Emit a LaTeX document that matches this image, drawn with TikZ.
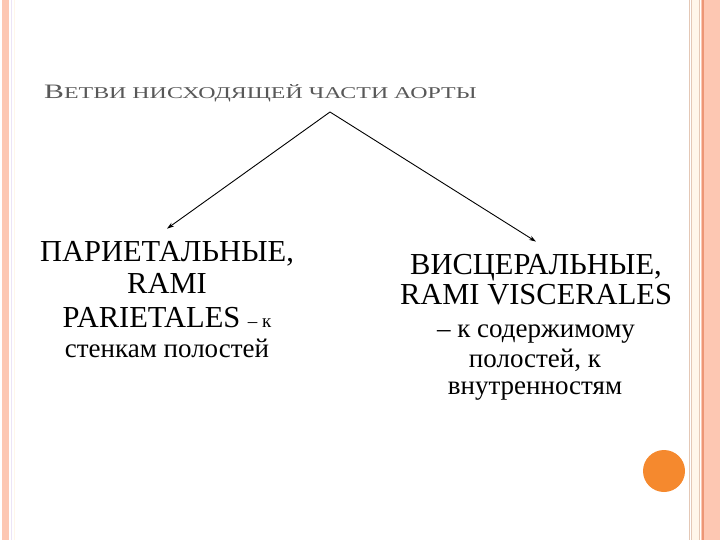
\documentclass[tikz,border=0pt]{standalone}
\usepackage{fontspec}
\setmainfont{Liberation Serif}
\newfontfamily\titlefont[FakeStretch=1.45]{Liberation Serif}
\usetikzlibrary{arrows.meta}
\definecolor{sl_salmon}{RGB}{253,199,178}
\definecolor{sl_rust}{RGB}{236,150,118}
\definecolor{sl_tan}{RGB}{228,200,182}
\definecolor{sl_cream}{RGB}{255,246,234}
\definecolor{sl_lilac}{RGB}{236,228,246}
\definecolor{sl_orange}{RGB}{245,137,46}
\definecolor{sl_gray}{RGB}{88,88,88}
\tikzstyle{big}=[inner sep=0pt,font=\fontsize{30.5}{34}\selectfont]
\tikzstyle{small}=[inner sep=0pt,font=\fontsize{27}{30}\selectfont]
\tikzstyle{branch}=[-{Stealth[length=7pt,width=4.5pt]},line width=0.9pt]
\newcommand{\capsc}[1]{{\fontsize{20.5}{24}\selectfont #1}}
\newcommand{\smallk}{\fontsize{19}{22}\selectfont}

\begin{document}
\begin{tikzpicture}[x=1pt,y=-1pt]
    \useasboundingbox (0,0) rectangle (720,540);
    % slide frame
    \fill [sl_salmon] (2,0) rectangle (9,540);
    \draw [sl_lilac,line width=1pt] (11.5,0) -- (11.5,540);
    \draw [sl_cream,line width=1pt] (14.5,0) -- (14.5,540);
    \fill [sl_cream] (691,0) rectangle (699,540);
    \draw [sl_tan,line width=1pt] (689.5,0) -- (689.5,540);
    \draw [sl_tan,line width=1pt] (691.5,0) -- (691.5,540);
    \draw [sl_tan,line width=1pt] (699.5,0) -- (699.5,540);
    \fill [sl_salmon] (701,0) rectangle (720,540);
    \draw [sl_rust,line width=1.2pt] (703,0) -- (703,540);
    \fill [sl_orange] (664,471) circle (21);

    \node [anchor=base west,inner sep=0pt,text=sl_gray,font=\titlefont\fontsize{16.5}{20}\selectfont] (title) at (44,99)
      {\capsc{В}ЕТВИ НИСХОДЯЩЕЙ ЧАСТИ АОРТЫ};
    \coordinate (top) at (330,112);

    \node [style=big,anchor=base] (par1) at (167,261) {ПАРИЕТАЛЬНЫЕ,};
    \node [style=big,anchor=base] (par2) at (167,293) {RAMI};
    \node [style=big,anchor=base] (par3) at (167,327) {PARIETALES {\smallk – к}};
    \node [style=small,anchor=base] (par4) at (167,357) {стенкам полостей};

    \node [style=big,anchor=base] (vis1) at (536,274) {ВИСЦЕРАЛЬНЫЕ,};
    \node [style=big,anchor=base] (vis2) at (536,304) {RAMI VISCERALES};
    \node [style=small,anchor=base] (vis3) at (536,337) {– к содержимому};
    \node [style=small,anchor=base] (vis4) at (535,367) {полостей, к};
    \node [style=small,anchor=base] (vis5) at (535,394) {внутренностям};

    \coordinate (partip) at ([yshift=12pt]par1.north);
    \coordinate (vistip) at ([yshift=12pt]vis1.north);
    \draw [style=branch] (top) to (partip);
    \draw [style=branch] (top) to (vistip);
  \end{tikzpicture}
\end{document}
